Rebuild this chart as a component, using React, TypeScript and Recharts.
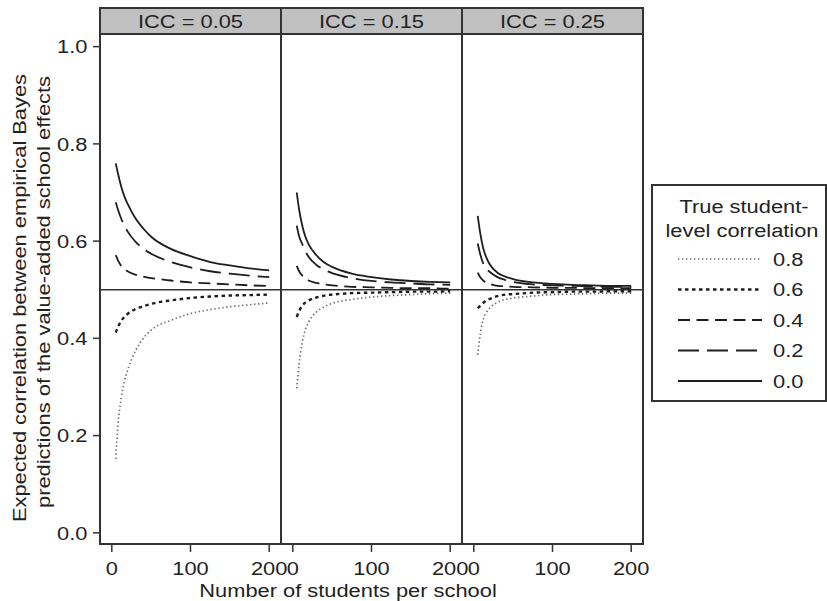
import React from 'react';
import { LineChart, Line, XAxis, YAxis, ReferenceLine } from 'recharts';

// ---------- data ----------
const studentsPerSchool = [5, 8, 12, 16, 20, 30, 40, 50, 75, 100, 125, 150, 175, 200];
const panelLabels = ['ICC = 0.05', 'ICC = 0.15', 'ICC = 0.25'];
const correlationLevels = ['0.8', '0.6', '0.4', '0.2', '0.0'];
const levelKeys = ['r08', 'r06', 'r04', 'r02', 'r00'];
const xTicks = [0, 100, 200];
const yTicks = [0, 0.2, 0.4, 0.6, 0.8, 1.0];
const referenceValue = 0.5;

// ICC = 0.05
const icc05_r00 = [0.760, 0.738, 0.712, 0.692, 0.677, 0.647, 0.626, 0.609, 0.584, 0.569, 0.557, 0.550, 0.544, 0.540];
const icc05_r02 = [0.680, 0.664, 0.646, 0.632, 0.620, 0.599, 0.584, 0.574, 0.557, 0.546, 0.538, 0.533, 0.529, 0.526];
const icc05_r04 = [0.571, 0.560, 0.549, 0.543, 0.538, 0.531, 0.527, 0.524, 0.519, 0.515, 0.513, 0.511, 0.509, 0.508];
const icc05_r06 = [0.412, 0.424, 0.436, 0.444, 0.450, 0.460, 0.466, 0.471, 0.478, 0.483, 0.486, 0.488, 0.489, 0.490];
const icc05_r08 = [0.152, 0.225, 0.278, 0.312, 0.334, 0.374, 0.400, 0.417, 0.437, 0.451, 0.459, 0.465, 0.469, 0.473];

// ICC = 0.15
const icc15_r00 = [0.700, 0.665, 0.632, 0.609, 0.594, 0.571, 0.556, 0.547, 0.533, 0.526, 0.521, 0.518, 0.516, 0.515];
const icc15_r02 = [0.632, 0.610, 0.594, 0.579, 0.568, 0.551, 0.541, 0.534, 0.524, 0.518, 0.515, 0.513, 0.511, 0.510];
const icc15_r04 = [0.549, 0.538, 0.529, 0.523, 0.519, 0.514, 0.511, 0.509, 0.506, 0.505, 0.504, 0.503, 0.503, 0.502];
const icc15_r06 = [0.444, 0.456, 0.467, 0.474, 0.478, 0.484, 0.488, 0.490, 0.493, 0.494, 0.495, 0.496, 0.496, 0.497];
const icc15_r08 = [0.297, 0.347, 0.392, 0.418, 0.433, 0.454, 0.465, 0.472, 0.480, 0.485, 0.488, 0.490, 0.492, 0.493];

// ICC = 0.25
const icc25_r00 = [0.652, 0.618, 0.585, 0.566, 0.553, 0.535, 0.527, 0.522, 0.515, 0.512, 0.510, 0.509, 0.508, 0.508];
const icc25_r02 = [0.595, 0.574, 0.554, 0.543, 0.537, 0.526, 0.520, 0.516, 0.511, 0.509, 0.508, 0.507, 0.506, 0.506];
const icc25_r04 = [0.535, 0.526, 0.519, 0.514, 0.512, 0.508, 0.507, 0.506, 0.505, 0.504, 0.504, 0.503, 0.503, 0.503];
const icc25_r06 = [0.462, 0.467, 0.473, 0.478, 0.481, 0.487, 0.490, 0.491, 0.494, 0.495, 0.496, 0.496, 0.497, 0.497];
const icc25_r08 = [0.366, 0.406, 0.439, 0.453, 0.462, 0.474, 0.480, 0.483, 0.487, 0.490, 0.491, 0.492, 0.493, 0.493];

const panelSeries = [
  { r08: icc05_r08, r06: icc05_r06, r04: icc05_r04, r02: icc05_r02, r00: icc05_r00 },
  { r08: icc15_r08, r06: icc15_r06, r04: icc15_r04, r02: icc15_r02, r00: icc15_r00 },
  { r08: icc25_r08, r06: icc25_r06, r04: icc25_r04, r02: icc25_r02, r00: icc25_r00 },
];

const panelData = panelSeries.map((s) =>
  studentsPerSchool.map((n, i) => ({
    n,
    r08: s.r08[i],
    r06: s.r06[i],
    r04: s.r04[i],
    r02: s.r02[i],
    r00: s.r00[i],
  }))
);

// ---------- styles ----------
const FONT = '"Liberation Sans", Arial, Helvetica, sans-serif';
const FS = 19;
const SX = 1.15;
const INK = '#222';
const BORDER = '#333';

const lineStyles: Record<string, { stroke: string; width: number; dash?: string }> = {
  r08: { stroke: '#6e6e6e', width: 1.7, dash: '1.4 2.6' },
  r06: { stroke: '#1e1e1e', width: 2.4, dash: '3.5 3.5' },
  r04: { stroke: '#1e1e1e', width: 1.8, dash: '12 6.5' },
  r02: { stroke: '#1e1e1e', width: 1.8, dash: '21 8' },
  r00: { stroke: '#1e1e1e', width: 1.8 },
};

const PLOT_TOP = 34;
const PLOT_H = 510;
const PANEL_W = 181;
const Y_AXIS_W = 100;
const panelLefts = [100, 281, 462];
const X_DOMAIN: [number, number] = [-15, 215];
const Y_DOMAIN: [number, number] = [-0.023, 1.026];

const XTick = (props: any) => {
  const { x, y, payload } = props;
  return (
    <text
      transform={`translate(${x} ${y + 21}) scale(${SX} 1)`}
      textAnchor="middle"
      fontSize={FS}
      fontFamily={FONT}
      fill={INK}
    >
      {payload.value}
    </text>
  );
};

const YTick = (props: any) => {
  const { x, y, payload } = props;
  return (
    <text
      transform={`translate(${x - 3.5} ${y + 6.8}) scale(${SX} 1)`}
      textAnchor="end"
      fontSize={FS}
      fontFamily={FONT}
      fill={INK}
    >
      {Number(payload.value).toFixed(1)}
    </text>
  );
};

function Panel({ index }: { index: number }) {
  const first = index === 0;
  const width = PANEL_W + (first ? Y_AXIS_W : 0);
  const left = panelLefts[index] - (first ? Y_AXIS_W : 0);
  return (
    <div style={{ position: 'absolute', left, top: 0, overflow: 'visible' }}>
      <LineChart
        width={width}
        height={601}
        data={panelData[index]}
        margin={{ top: PLOT_TOP, right: 0, bottom: 0, left: 0 }}
        style={{ overflow: 'visible' }}
      >
        <XAxis
          type="number"
          dataKey="n"
          domain={X_DOMAIN}
          ticks={xTicks}
          allowDataOverflow
          axisLine={false}
          tickSize={8}
          tickMargin={2}
          height={57}
          tickLine={{ stroke: BORDER, strokeWidth: 1.5 }}
          tick={<XTick />}
          interval={0}
        />
        <YAxis
          type="number"
          domain={Y_DOMAIN}
          ticks={yTicks}
          allowDataOverflow
          hide={!first}
          width={first ? Y_AXIS_W : 0}
          axisLine={false}
          tickSize={7}
          tickMargin={2}
          tickLine={{ stroke: BORDER, strokeWidth: 1.5 }}
          tick={<YTick />}
          interval={0}
        />
        <ReferenceLine y={referenceValue} stroke={BORDER} strokeWidth={1.6} ifOverflow="visible" />
        {levelKeys.map((k) => (
          <Line
            key={k}
            type="monotone"
            dataKey={k}
            stroke={lineStyles[k].stroke}
            strokeWidth={lineStyles[k].width}
            strokeDasharray={lineStyles[k].dash}
            dot={false}
            activeDot={false}
            isAnimationActive={false}
          />
        ))}
      </LineChart>
    </div>
  );
}

const legendYs = [259, 289.5, 320, 350.5, 381];

export default function App() {
  return (
    <div
      style={{
        position: 'absolute',
        left: 0,
        top: 0,
        width: 827,
        height: 601,
        background: '#fff',
        overflow: 'hidden',
      }}
    >
      <style>{`.recharts-surface{overflow:visible !important}.recharts-wrapper{overflow:visible !important}`}</style>
      {panelLabels.map((_, i) => (
        <Panel key={i} index={i} />
      ))}
      <svg
        width={827}
        height={601}
        style={{ position: 'absolute', left: 0, top: 0, pointerEvents: 'none' }}
      >
        {/* strips & panel borders */}
        {panelLabels.map((lab, i) => (
          <g key={lab}>
            <rect x={panelLefts[i]} y={8} width={PANEL_W} height={PLOT_TOP - 8} fill="#c0c0c0" stroke={BORDER} strokeWidth={2} />
            <rect x={panelLefts[i]} y={PLOT_TOP} width={PANEL_W} height={PLOT_H} fill="none" stroke={BORDER} strokeWidth={2} />
            <text
              transform={`translate(${panelLefts[i] + PANEL_W / 2} 28.3) scale(${SX} 1)`}
              textAnchor="middle"
              fontSize={FS}
              fontFamily={FONT}
              fill={INK}
            >
              {lab}
            </text>
          </g>
        ))}

        {/* axis titles */}
        <text
          transform={`translate(348 596.5) scale(${SX} 1)`}
          textAnchor="middle"
          fontSize={FS}
          fontFamily={FONT}
          fill={INK}
        >
          Number of students per school
        </text>
        <text
          transform={`translate(26 298) rotate(-90) scale(${SX} 1)`}
          textAnchor="middle"
          fontSize={FS}
          fontFamily={FONT}
          fill={INK}
        >
          Expected correlation between empirical Bayes
        </text>
        <text
          transform={`translate(49.5 292) rotate(-90) scale(${SX} 1)`}
          textAnchor="middle"
          fontSize={FS}
          fontFamily={FONT}
          fill={INK}
        >
          predictions of the value-added school effects
        </text>

        {/* legend */}
        <rect x={652} y={185} width={174} height={216} fill="#fff" stroke={BORDER} strokeWidth={2} />
        <text
          transform={`translate(744 213.3) scale(${SX} 1)`}
          textAnchor="middle"
          fontSize={FS}
          fontFamily={FONT}
          fill={INK}
        >
          True student-
        </text>
        <text
          transform={`translate(742 237) scale(${SX} 1)`}
          textAnchor="middle"
          fontSize={FS}
          fontFamily={FONT}
          fill={INK}
        >
          level correlation
        </text>
        {correlationLevels.map((lev, i) => {
          const k = levelKeys[i];
          const st = lineStyles[k];
          const y = legendYs[i];
          return (
            <g key={lev}>
              <line
                x1={678}
                x2={762}
                y1={y}
                y2={y}
                stroke={st.stroke}
                strokeWidth={st.width}
                strokeDasharray={st.dash}
              />
              <text
                transform={`translate(773 ${y + 6.8}) scale(${SX} 1)`}
                textAnchor="start"
                fontSize={FS}
                fontFamily={FONT}
                fill={INK}
              >
                {lev}
              </text>
            </g>
          );
        })}
      </svg>
    </div>
  );
}
